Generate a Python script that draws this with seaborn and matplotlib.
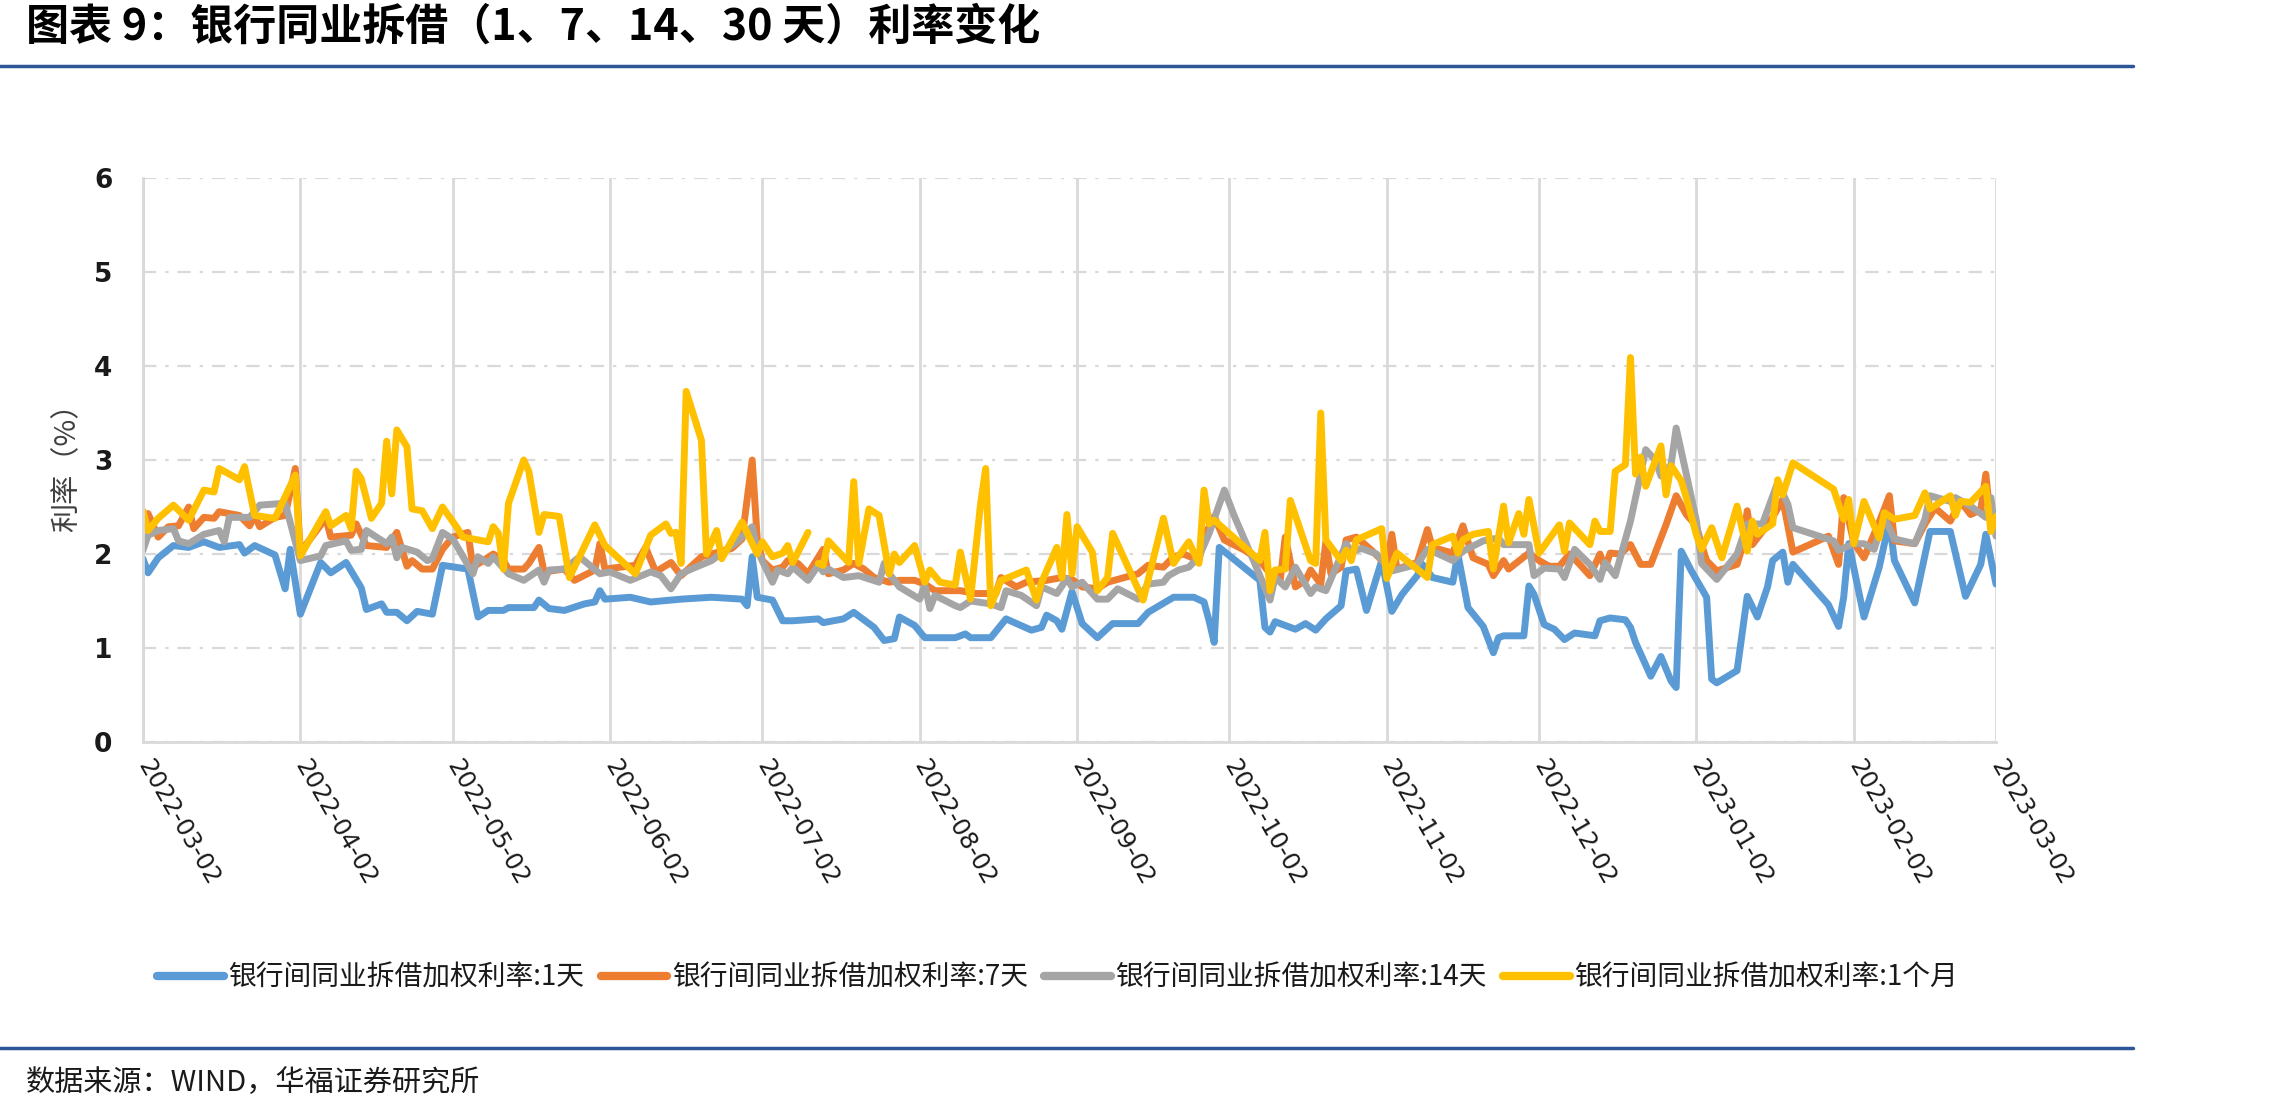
import numpy as np
import pandas as pd
import matplotlib
matplotlib.use("Agg")
import matplotlib.pyplot as plt
from matplotlib.lines import Line2D
import seaborn as sns

# ── DATA (day offsets from 2022-03-02) ───────────────────────────────────
BASE = pd.Timestamp("2022-03-02")

names = ["银行间同业拆借加权利率:1天", "银行间同业拆借加权利率:7天",
         "银行间同业拆借加权利率:14天", "银行间同业拆借加权利率:1个月"]
colors = ["#5B9BD5", "#ED7D31", "#A5A5A5", "#FFC000"]

d_1d = [0, 1, 3, 6, 9, 12, 15, 19, 20, 22, 26, 28, 29, 31, 35, 37, 40, 43, 44, 47,
        48, 50, 52, 54, 57, 59, 64, 66, 68, 71, 72, 77, 78, 80, 83, 87, 89, 90, 91, 96,
        100, 106, 112, 118, 119, 120, 121, 124, 126, 128, 133, 134, 138, 140, 144, 146, 148, 149, 152, 154,
        160, 162, 163, 167, 170, 175, 177, 178, 180, 181, 183, 185, 188, 191, 196, 198, 203, 207, 209, 210,
        211, 212, 220, 221, 222, 223, 225, 227, 229, 231, 233, 236, 237, 239, 241, 244, 246, 248, 251, 252,
        254, 258, 259, 261, 264, 266, 267, 268, 272, 273, 274, 276, 278, 280, 282, 286, 287, 289, 292, 293,
        294, 297, 299, 301, 302, 303, 305, 308, 309, 310, 314, 316, 318, 320, 321, 323, 324, 325, 332, 334,
        335, 336, 339, 342, 344, 345, 349, 352, 356, 359, 362, 363, 365]
v_1d = [1.95, 1.80, 1.96, 2.09, 2.07, 2.13, 2.07, 2.10, 2.01, 2.09, 1.99, 1.63, 2.05, 1.36, 1.91, 1.80, 1.91, 1.64, 1.41, 1.47,
        1.38, 1.38, 1.29, 1.39, 1.36, 1.88, 1.84, 1.33, 1.40, 1.40, 1.43, 1.43, 1.51, 1.42, 1.40, 1.47, 1.49, 1.61, 1.52, 1.54,
        1.49, 1.52, 1.54, 1.52, 1.45, 1.97, 1.54, 1.51, 1.29, 1.29, 1.31, 1.27, 1.31, 1.38, 1.22, 1.08, 1.10, 1.33, 1.24, 1.11,
        1.11, 1.15, 1.11, 1.11, 1.31, 1.19, 1.22, 1.35, 1.29, 1.20, 1.60, 1.26, 1.11, 1.26, 1.26, 1.38, 1.54, 1.54, 1.49, 1.29,
        1.06, 2.07, 1.72, 1.22, 1.17, 1.28, 1.24, 1.20, 1.26, 1.19, 1.31, 1.45, 1.82, 1.84, 1.40, 1.93, 1.39, 1.57, 1.77, 1.89,
        1.75, 1.70, 2.00, 1.43, 1.23, 0.95, 1.11, 1.13, 1.13, 1.66, 1.57, 1.25, 1.20, 1.09, 1.16, 1.13, 1.29, 1.32, 1.30, 1.22,
        1.06, 0.70, 0.91, 0.65, 0.58, 2.03, 1.82, 1.54, 0.67, 0.63, 0.76, 1.55, 1.33, 1.65, 1.93, 2.02, 1.70, 1.89, 1.46, 1.23,
        1.54, 2.11, 1.33, 1.86, 2.35, 1.93, 1.48, 2.24, 2.24, 1.55, 1.89, 2.21, 1.68]

d_7d = [0, 1, 3, 5, 7, 9, 10, 12, 14, 15, 19, 21, 22, 23, 26, 28, 30, 31, 36, 37,
        41, 42, 44, 48, 50, 52, 53, 55, 57, 59, 61, 64, 65, 69, 71, 72, 75, 76, 78, 79,
        83, 85, 89, 90, 91, 97, 99, 101, 104, 106, 110, 116, 118, 120, 121, 122, 124, 126, 127, 129,
        131, 134, 135, 138, 140, 142, 144, 147, 149, 152, 154, 156, 161, 164, 168, 169, 172, 174, 178, 181,
        183, 185, 188, 190, 196, 198, 201, 203, 205, 208, 209, 211, 213, 217, 220, 222, 224, 225, 227, 229,
        230, 232, 233, 234, 236, 237, 239, 242, 245, 246, 247, 251, 253, 254, 258, 260, 262, 265, 266, 268,
        269, 273, 275, 277, 279, 281, 283, 285, 287, 288, 289, 291, 293, 295, 297, 300, 302, 304, 306, 307,
        308, 310, 314, 315, 316, 317, 319, 321, 323, 325, 332, 334, 335, 337, 339, 342, 344, 345, 349, 351,
        353, 356, 358, 360, 362, 363, 364, 365]
v_7d = [2.40, 2.43, 2.18, 2.29, 2.30, 2.50, 2.27, 2.39, 2.38, 2.45, 2.41, 2.30, 2.41, 2.29, 2.39, 2.41, 2.91, 2.02, 2.38, 2.18,
        2.20, 2.32, 2.09, 2.07, 2.23, 1.87, 1.93, 1.84, 1.84, 2.05, 2.18, 2.23, 1.86, 2.00, 1.93, 1.84, 1.84, 1.90, 2.07, 1.81,
        1.84, 1.72, 1.83, 2.11, 1.84, 1.88, 2.07, 1.81, 1.91, 1.77, 1.97, 2.06, 2.16, 3.00, 2.16, 1.93, 1.83, 1.86, 1.93, 1.90,
        1.79, 2.05, 1.79, 1.83, 1.90, 1.84, 1.75, 1.70, 1.72, 1.72, 1.68, 1.61, 1.61, 1.58, 1.58, 1.75, 1.65, 1.70, 1.72, 1.75,
        1.73, 1.65, 1.63, 1.70, 1.79, 1.88, 1.86, 1.97, 2.00, 1.93, 2.18, 2.40, 2.15, 2.04, 1.93, 1.79, 1.72, 2.18, 1.65, 1.72,
        1.83, 1.68, 2.13, 1.79, 1.86, 2.15, 2.18, 2.04, 1.88, 2.21, 1.84, 1.91, 2.26, 2.07, 2.01, 2.30, 1.96, 1.89, 1.77, 1.93,
        1.84, 2.01, 1.93, 1.87, 1.87, 2.00, 1.89, 1.77, 2.00, 1.85, 2.01, 2.00, 2.10, 1.89, 1.89, 2.31, 2.62, 2.42, 2.30, 2.10,
        1.93, 1.82, 1.89, 2.07, 2.46, 2.10, 2.24, 2.39, 2.58, 2.02, 2.19, 1.89, 2.60, 2.12, 1.96, 2.34, 2.62, 2.14, 2.11, 2.32,
        2.49, 2.35, 2.56, 2.42, 2.47, 2.85, 2.32, 2.39]

d_14d = [0, 1, 3, 6, 7, 9, 12, 15, 16, 17, 21, 23, 28, 31, 35, 36, 40, 41, 43, 44,
         48, 49, 50, 51, 54, 56, 57, 59, 61, 62, 65, 66, 68, 69, 72, 75, 78, 79, 80, 83,
         86, 90, 92, 96, 100, 102, 104, 106, 108, 112, 117, 120, 121, 124, 125, 127, 128, 131, 133, 134,
         135, 138, 141, 145, 146, 147, 149, 153, 154, 155, 156, 160, 161, 163, 167, 169, 170, 173, 176, 177,
         180, 182, 183, 185, 188, 190, 192, 196, 198, 201, 202, 204, 206, 208, 210, 213, 215, 219, 222, 223,
         225, 227, 230, 231, 233, 235, 237, 238, 240, 243, 245, 246, 251, 253, 254, 258, 260, 264, 267, 268,
         273, 274, 276, 279, 280, 282, 285, 287, 288, 290, 293, 295, 296, 298, 299, 301, 302, 304, 306, 307,
         310, 314, 316, 319, 322, 324, 325, 333, 334, 337, 339, 341, 343, 345, 349, 351, 352, 356, 357, 360,
         363, 364, 365]
v_14d = [2.04, 2.20, 2.25, 2.27, 2.14, 2.11, 2.21, 2.25, 2.13, 2.39, 2.39, 2.52, 2.54, 1.93, 1.98, 2.09, 2.14, 2.04, 2.05, 2.25,
         2.11, 2.18, 1.96, 2.07, 2.02, 1.93, 1.95, 2.23, 2.16, 2.07, 1.79, 1.97, 1.90, 1.97, 1.79, 1.72, 1.83, 1.70, 1.83, 1.84,
         1.97, 1.79, 1.81, 1.72, 1.81, 1.77, 1.63, 1.79, 1.84, 1.93, 2.13, 2.29, 2.04, 1.70, 1.83, 1.79, 1.86, 1.72, 1.88, 1.81,
         1.84, 1.75, 1.77, 1.70, 1.90, 1.79, 1.65, 1.52, 1.67, 1.42, 1.56, 1.45, 1.43, 1.50, 1.47, 1.43, 1.61, 1.56, 1.45, 1.65,
         1.58, 1.74, 1.65, 1.70, 1.52, 1.52, 1.63, 1.52, 1.68, 1.70, 1.77, 1.83, 1.86, 1.97, 2.22, 2.68, 2.40, 1.90, 1.51, 1.75,
         1.65, 1.86, 1.58, 1.65, 1.61, 1.86, 2.11, 2.02, 2.06, 2.00, 1.88, 1.82, 1.89, 2.05, 2.03, 1.93, 2.03, 2.14, 2.17, 2.10,
         2.10, 1.77, 1.85, 1.84, 1.75, 2.05, 1.89, 1.73, 1.91, 1.77, 2.35, 2.85, 3.11, 2.99, 2.83, 2.95, 3.34, 2.85, 2.35, 1.90,
         1.73, 2.00, 2.32, 2.32, 2.76, 2.53, 2.28, 2.14, 2.04, 2.11, 2.11, 2.05, 2.39, 2.16, 2.11, 2.37, 2.62, 2.56, 2.60, 2.51,
         2.39, 2.60, 2.19]

# 1个月: NaN marks the short break in early July
d_1m = [0, 1, 3, 6, 9, 12, 14, 15, 19, 20, 22, 26, 30, 31, 36, 37, 40, 41, 42, 43,
        45, 47, 48, 49, 50, 52, 53, 55, 57, 59, 62, 63, 65, 68, 69, 70, 71, 72, 75, 76,
        78, 79, 82, 84, 89, 91, 97, 100, 103, 104, 105, 106, 107, 110, 111, 113, 114, 118, 121, 122,
        124, 126, 127, 128, 131, 132, 133, 134, 135, 139, 140, 141, 143, 145, 147, 148, 149, 152, 154, 155,
        157, 160, 161, 163, 165, 166, 167, 169, 170, 174, 176, 177, 180, 181, 182, 183, 184, 187, 188, 190,
        191, 197, 201, 203, 206, 208, 209, 210, 211, 220, 221, 222, 223, 225, 226, 230, 231, 232, 233, 236,
        237, 238, 239, 244, 245, 247, 251, 253, 254, 258, 259, 260, 262, 265, 266, 268, 269, 271, 272, 273,
        275, 279, 280, 281, 285, 286, 287, 289, 290, 292, 293, 294, 295, 296, 299, 300, 301, 303, 304, 306,
        307, 309, 311, 314, 316, 317, 318, 321, 322, 323, 325, 333, 335, 336, 337, 339, 342, 343, 345, 349,
        351, 352, 356, 357, 358, 360, 363, 364, 365]
v_1m = [2.46, 2.25, 2.38, 2.52, 2.36, 2.68, 2.66, 2.91, 2.79, 2.93, 2.41, 2.38, 2.84, 1.98, 2.45, 2.30, 2.41, 2.27, 2.88, 2.80,
        2.38, 2.54, 3.20, 2.64, 3.32, 3.14, 2.48, 2.46, 2.27, 2.50, 2.27, 2.18, 2.16, 2.13, 2.29, 2.22, 1.84, 2.54, 3.00, 2.88,
        2.23, 2.42, 2.40, 1.75, 2.31, 2.09, 1.79, 2.20, 2.32, 2.22, 2.23, 1.90, 3.73, 3.21, 2.00, 2.25, 1.95, 2.34, 2.00, 2.13,
        1.97, 2.01, 2.09, 1.91, 2.23, np.nan, 1.90, 1.88, 2.14, 1.91, 2.77, 1.90, 2.48, 2.41, 1.79, 2.00, 1.91, 2.09, 1.70, 1.83,
        1.70, 1.67, 2.02, 1.52, 2.54, 2.91, 1.45, 1.72, 1.74, 1.83, 1.51, 1.70, 2.07, 1.75, 2.42, 1.79, 2.29, 2.02, 1.61, 1.75,
        2.22, 1.51, 2.38, 1.90, 2.13, 1.90, 2.68, 2.32, 2.36, 1.93, 2.23, 1.61, 1.83, 1.84, 2.57, 1.93, 1.90, 3.50, 2.15, 1.93,
        2.04, 1.93, 2.15, 2.27, 1.74, 2.01, 1.84, 1.75, 2.10, 2.19, 2.01, 2.15, 2.21, 2.24, 1.84, 2.51, 2.12, 2.43, 2.21, 2.58,
        2.01, 2.31, 2.03, 2.33, 2.10, 2.35, 2.24, 2.24, 2.88, 2.95, 4.09, 2.85, 3.03, 2.72, 3.15, 2.63, 2.94, 2.78, 2.60, 2.20,
        2.05, 2.28, 1.96, 2.51, 2.03, 2.35, 2.21, 2.32, 2.79, 2.63, 2.97, 2.69, 2.37, 2.58, 2.11, 2.56, 2.17, 2.44, 2.37, 2.41,
        2.65, 2.48, 2.62, 2.41, 2.56, 2.55, 2.72, 2.24, 2.40]

y_ticks = [0, 1, 2, 3, 4, 5, 6]
title_text = "图表 9：银行同业拆借（1、7、14、30 天）利率变化"
source_text = "数据来源：WIND，华福证券研究所"
ylabel_text = "利率（%）"

# ── BUILD LONG TABLE ──────────────────────────────────────────
frames = []
for name, d, v in zip(names, [d_1d, d_7d, d_14d, d_1m], [v_1d, v_7d, v_14d, v_1m]):
    part = pd.DataFrame({"day": d, "rate": v})
    part["seg"] = part["rate"].isna().cumsum()   # break the line at gaps
    part["series"] = name
    frames.append(part.dropna())
df = pd.concat(frames, ignore_index=True)
df["date"] = BASE + pd.to_timedelta(df["day"], unit="D")

# ── PLOT ──────────────────────────────────────────────────────
sns.set_style("white")
plt.rcParams["font.family"] = ["Noto Sans CJK SC", "DejaVu Sans"]
plt.rcParams["axes.unicode_minus"] = False

GRID = "#D9D9D9"
RULE = "#2E5597"

fig = plt.figure(figsize=(22.84, 11.11), dpi=100)
ax = fig.add_axes([0.0626, 0.3321, 0.8113, 0.5077])

sns.lineplot(data=df, x="date", y="rate", hue="series", hue_order=names,
             palette=colors, units="seg", estimator=None, sort=False,
             linewidth=5.0, solid_joinstyle="round", ax=ax)

ticks = pd.date_range(BASE, periods=13, freq=pd.DateOffset(months=1))
ax.set_xlim(BASE, BASE + pd.Timedelta(days=365))
ax.set_ylim(0, 6)
ax.set_xticks(ticks)
ax.set_xticklabels([t.strftime("%Y-%m-%d") for t in ticks], rotation=-60,
                   ha="left", va="center", rotation_mode="anchor",
                   fontsize=17.5, family="DejaVu Sans", color="#1A1A1A")
ax.set_yticks(y_ticks)
ax.set_yticklabels([str(t) for t in y_ticks], fontsize=19, fontweight="bold",
                   family="DejaVu Sans", color="#1A1A1A")

ax.xaxis.grid(True, color=GRID, lw=2, ls="-")
ax.yaxis.grid(True, color=GRID, lw=1.6, ls=(0, (6, 4, 1.5, 4)))
ax.set_axisbelow(True)
for s in ["top", "right"]:
    ax.spines[s].set_visible(False)
for s in ["left", "bottom"]:
    ax.spines[s].set_color(GRID)
    ax.spines[s].set_linewidth(2)
ax.tick_params(axis="x", length=7, width=2, color=GRID, pad=7)
ax.tick_params(axis="y", length=0, pad=22)

ax.set_xlabel("")
ax.set_ylabel(ylabel_text, fontsize=21, color="#404040", labelpad=8)

handles, labels = ax.get_legend_handles_labels()
ax.get_legend().remove()
leg = fig.legend(handles, labels, loc="center", bbox_to_anchor=(0.463, 0.12),
                 ncol=4, frameon=False, fontsize=20, handlelength=2.4,
                 handletextpad=0.15, columnspacing=0.6)
for h in leg.get_lines():
    h.set_linewidth(6)
    h.set_solid_capstyle("round")
for t in leg.get_texts():
    t.set_color("#1A1A1A")

fig.text(0.0114, 0.9757, title_text, fontsize=31, fontweight="bold",
         ha="left", va="center", color="black")
fig.text(0.0114, 0.0252, source_text, fontsize=21, ha="left", va="center",
         color="#1A1A1A")
fig.add_artist(Line2D([0, 0.934], [0.9406, 0.9406], transform=fig.transFigure,
                      color=RULE, lw=2.5))
fig.add_artist(Line2D([0, 0.934], [0.0567, 0.0567], transform=fig.transFigure,
                      color=RULE, lw=2.5))

fig.savefig("out.png", dpi=100)
